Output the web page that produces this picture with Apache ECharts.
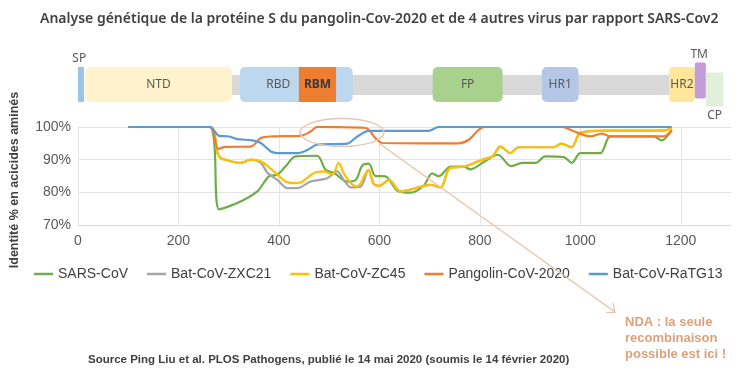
<!DOCTYPE html>
<html><head><meta charset="utf-8">
<script src="https://cdn.jsdelivr.net/npm/echarts/dist/echarts.min.js"></script>
<style>html,body{margin:0;padding:0;background:#fff}#c{width:756px;height:383px}</style>
</head><body><div id="c"></div>
<script>
// ---------- data ----------
const seriesNames = ['SARS-CoV', 'Bat-CoV-ZXC21', 'Bat-CoV-ZC45', 'Pangolin-CoV-2020', 'Bat-CoV-RaTG13'];

const sarsCoV = [[100,100],[262,100],[281,74.8],[317,76.7],[357,80.3],[380,84.9],[397,85.4],[413,87.9],[433,91],[476,91.2],[493,86.9],[510,85.9],[536,83.3],[553,83.8],[566,88.2],[579,88.8],[592,85],[612,84.9],[636,80.5],[662,79.9],[688,82],[705,85.8],[718,84.9],[742,87.9],[768,87.9],[781,87],[808,89.3],[836,91.5],[862,88],[884,89],[911,89],[930,91],[967,90.8],[983,89],[1000,92],[1040,92],[1060,97.1],[1146,97.1],[1162,95.9],[1182,99]];

const batZXC21 = [[100,100],[262,100],[278,92],[284,90.5],[304,89.5],[324,89],[344,90],[364,89],[377,86],[397,83.8],[417,81.3],[437,81.3],[463,83.3],[496,84.3],[516,86.4],[529,83.8],[543,81.5],[563,81.8],[578,86.9],[589,82.5],[600,82],[619,83.8],[642,80.3],[660,80.8],[702,82.3],[722,81.5],[740,87.4],[770,87.9],[805,90],[825,91],[841,94],[861,92],[877,93.8],[947,93.8],[962,94.9],[983,93.8],[1000,98.2],[1053,98.9],[1166,98.9],[1182,99.7]];

const batZC45 = [[100,100],[262,100],[278,92],[284,90.5],[304,89.5],[324,89],[344,90],[364,89.5],[390,86.4],[413,83.3],[430,82.8],[443,83],[470,85.9],[490,86.4],[506,85.4],[519,89],[529,85.9],[543,82.8],[556,81.8],[578,86.9],[589,82.5],[600,82],[619,83.8],[642,80.3],[660,80.8],[702,82.3],[722,81.5],[740,87.4],[770,87.9],[805,90],[825,91],[841,94],[861,92],[877,93.8],[947,93.8],[962,94.9],[983,93.8],[1000,98.2],[1053,98.9],[1166,98.9],[1182,99.7]];

const pangolin2020 = [[100,100],[262,100],[279,93.3],[294,93.9],[344,94],[364,96.6],[384,97.1],[443,97.3],[463,98.6],[476,100],[573,99.7],[592,96.6],[606,95.1],[758,95],[778,96.1],[798,99.2],[811,100],[963,100],[987,98.7],[1020,97.1],[1043,98],[1060,97.1],[1166,97.1],[1182,99]];

const batRaTG13 = [[100,100],[262,100],[281,97.3],[301,97.1],[317,96.3],[347,95.9],[364,95.1],[384,92.5],[397,92],[437,92],[457,93],[476,94.6],[536,94.9],[556,97.1],[579,98.8],[698,98.8],[718,100],[1182,100]];

// protein S domains (residue positions)
const domainNames = ['SP', 'NTD', 'RBD', 'RBM', 'FP', 'HR1', 'HR2', 'TM', 'CP'];
const domainStart = [2, 16, 324, 441, 707, 924, 1177, 1228, 1250];
const domainEnd   = [14, 308, 548, 515, 846, 997, 1228, 1250, 1285];
const proteinSpan = [16, 1180];

const xTicks = [0, 200, 400, 600, 800, 1000, 1200];
const yTicks = [70, 80, 90, 100];

// ---------- styles ----------
const lineColors = ['#70ad47', '#a5a5a5', '#ffc000', '#ed7d31', '#5b9bd5'];
const domainStyle = {
  SP:  {fill:'#9dc3e6', dy:0,  h:35, r:0, label:'above', lx:0.2},
  NTD: {fill:'#fff2cc', dy:0,  h:35, r:5, label:'inside', lx:0.5},
  RBD: {fill:'#bdd7ee', dy:0,  h:35, r:5, label:'inside', lx:0.34},
  RBM: {fill:'#ed7d31', dy:0,  h:35, r:0, label:'inside', lx:0.5, bold:true},
  FP:  {fill:'#a9d18e', dy:0,  h:35, r:5, label:'inside', lx:0.5},
  HR1: {fill:'#b4c7e7', dy:0,  h:35, r:5, label:'inside', lx:0.5},
  HR2: {fill:'#ffe699', dy:0,  h:35, r:4, label:'inside', lx:0.5},
  TM:  {fill:'#c39bd8', dy:-4.5, h:36, r:2, label:'above', lx:0.4},
  CP:  {fill:'#e2efda', dy:5.5, h:34, r:0, label:'below', lx:0.5}
};

const chart = echarts.init(document.getElementById('c'), null, {renderer:'canvas'});

function renderDomain(params, api) {
  const cs = params.coordSys;
  const i = api.value(0);
  const name = domainNames[i];
  const s = domainStyle[name];
  const x0 = api.coord([api.value(1), 0])[0];
  const x1 = api.coord([api.value(2), 0])[0];
  const y = cs.y + s.dy;
  let tx = x0 + (x1 - x0) * s.lx, ty = y + s.h / 2;
  if (s.label === 'above') ty = y - 8;
  if (s.label === 'below') ty = y + s.h + 9;
  return {
    type: 'group',
    children: [
      {type:'rect', shape:{x:x0, y:y, width:x1 - x0, height:s.h, r:s.r}, style:{fill:s.fill}},
      {type:'text', z2: 10, style:{text:name, x:tx, y:ty, align:'center', verticalAlign:'middle',
        fill: s.bold ? '#3a3a3a' : '#595959',
        font: (s.bold ? 'bold ' : '') + '12px "Noto Sans", "Liberation Sans", sans-serif'}}
    ]
  };
}

function renderSpan(params, api) {
  const cs = params.coordSys;
  const x0 = api.coord([api.value(0), 0])[0];
  const x1 = api.coord([api.value(1), 0])[0];
  return {type:'rect', shape:{x:x0, y:cs.y + 8, width:x1 - x0, height:20}, style:{fill:'#d9d9d9'}};
}

const lineData = [sarsCoV, batZXC21, batZC45, pangolin2020, batRaTG13];

const option = {
  backgroundColor: '#ffffff',
  animation: false,
  textStyle: {fontFamily: '"Liberation Sans", Arial, sans-serif'},
  title: [
    {text: 'Analyse génétique de la protéine S du pangolin-Cov-2020 et de 4 autres virus par rapport SARS-Cov2',
     left: 35, top: 7,
     textStyle: {fontSize: 14, fontWeight: 600, color: '#404040', fontFamily: '"Noto Sans", sans-serif'}},
    {text: 'Source Ping Liu et al. PLOS Pathogens, publié le 14 mai 2020 (soumis le 14 février 2020)',
     left: 83, top: 349,
     textStyle: {fontSize: 11.5, fontWeight: 'bold', color: '#404040', fontFamily: '"Liberation Sans", sans-serif'}}
  ],
  legend: {
    data: seriesNames,
    left: 29, top: 262,
    icon: 'rect', itemWidth: 19, itemHeight: 2.5, itemGap: 19,
    textStyle: {fontSize: 14, color: '#404040', fontFamily: '"Liberation Sans", Arial, sans-serif'}
  },
  grid: [
    {left: 77, right: 25, top: 127, height: 98, containLabel: false},
    {left: 77, right: 25, top: 67, height: 35, containLabel: false}
  ],
  xAxis: [
    {type: 'value', gridIndex: 0, min: 0, max: 1300, interval: 200,
     axisLine: {show: true, lineStyle: {color: '#d9d9d9', width: 1}},
     axisTick: {show: false},
     axisLabel: {color: '#595959', fontSize: 14, margin: 9,
       formatter: v => xTicks.indexOf(v) >= 0 ? String(v) : ''},
     splitLine: {show: true, showMaxLine: false, lineStyle: {color: '#e4e4e4', width: 1}}},
    {type: 'value', gridIndex: 1, min: 0, max: 1300, show: false}
  ],
  yAxis: [
    {type: 'value', gridIndex: 0, min: 70, max: 100, interval: 10,
     axisLine: {show: false}, axisTick: {show: false},
     axisLabel: {color: '#595959', fontSize: 14, margin: 7,
       formatter: v => yTicks.indexOf(v) >= 0 ? v + '%' : ''},
     splitLine: {show: true, lineStyle: {color: '#e4e4e4', width: 1}},
     name: 'Identité % en acicides aminés', nameLocation: 'middle', nameRotate: 90, nameGap: 57,
     nameTextStyle: {fontSize: 12.5, fontWeight: 'bold', color: '#404040', padding: [0, 0, 0, -8]}},
    {type: 'value', gridIndex: 1, min: 0, max: 1, show: false}
  ],
  series: [
    {type: 'custom', xAxisIndex: 1, yAxisIndex: 1, silent: true, renderItem: renderSpan,
     data: [proteinSpan], encode: {x: [0, 1]}, z: 1},
    {type: 'custom', xAxisIndex: 1, yAxisIndex: 1, silent: true, renderItem: renderDomain,
     data: domainNames.map((n, i) => [i, domainStart[i], domainEnd[i]]), encode: {x: [1, 2]}, z: 2}
  ].concat(seriesNames.map((n, i) => ({
    name: n, type: 'line', xAxisIndex: 0, yAxisIndex: 0,
    data: lineData[i], smooth: 0.3, showSymbol: false, symbol: 'none',
    lineStyle: {color: lineColors[i], width: 2.2},
    itemStyle: {color: lineColors[i]}, z: 3 + i
  }))),
  graphic: [
    {type: 'ellipse', shape: {cx: 342, cy: 132.5, rx: 42, ry: 14}, style: {fill: 'none', stroke: '#e9c6b3', lineWidth: 1.4}, z: 100},
    {type: 'line', shape: {x1: 380, y1: 144, x2: 615, y2: 312}, style: {stroke: '#e6c2aa', lineWidth: 1.2}, z: 100},
    {type: 'polyline', shape: {points: [[606, 312.5], [615, 312.5], [613, 303]]}, style: {stroke: '#e6c2aa', lineWidth: 1.2, fill: 'none'}, z: 100},
    {type: 'text', left: 625, top: 314, z: 100,
     style: {text: 'NDA : la seule\nrecombinaison\npossible est ici !', fill: '#d9a27c',
       font: 'bold 13px "Liberation Sans", sans-serif', lineHeight: 16}}
  ]
};
chart.setOption(option);
</script>
</body></html>
